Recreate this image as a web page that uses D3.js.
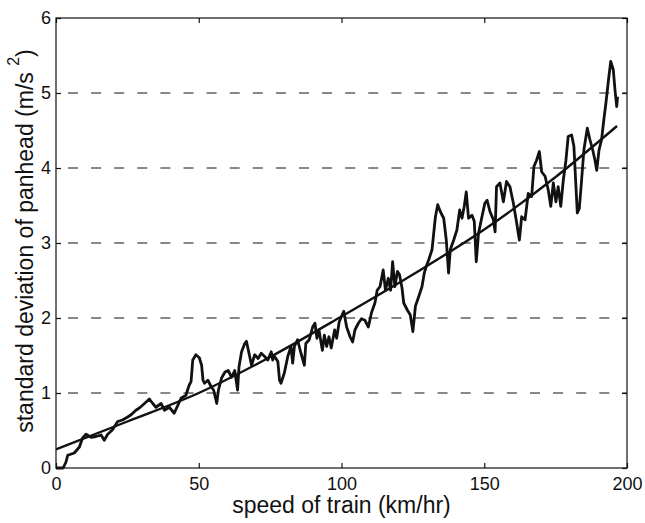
<!DOCTYPE html>
<html>
<head>
<meta charset="utf-8">
<script src="https://cdn.jsdelivr.net/npm/d3@7"></script>
<style>
  body { margin: 0; background: #fff; }
  text { font-family: "Liberation Sans", Arial, Helvetica, sans-serif; fill: #111; }
</style>
</head>
<body>
<div id="svg-container"></div>
<script>
const width = 645;
const height = 523;
const margin = { top: 18, right: 18, bottom: 55, left: 56 };

// measured speed (km/hr)
const speed = [
  0, 2.5, 3.5, 4.1, 6.4, 8.2, 9.3, 10.5, 12.3, 14,
  15.8, 16.9, 18.1, 19.8, 21.6, 23.3, 25.1, 26.3, 28, 29.2,
  31, 32.7, 33.9, 35, 36.8, 38, 39.7, 41.4, 42.6, 43.8,
  45.5, 46.7, 47.3, 47.9, 49, 50.2, 51, 51.5, 52, 53.2,
  54.4, 55.2, 56.3, 56.9, 58, 59.2, 60.3, 61.5, 62.6, 63.6,
  64.1, 65, 66.1, 66.7, 67.6, 68.5, 69.6, 70.8, 71.9, 73,
  74.2, 75.4, 75.9, 76.5, 77.7, 78.3, 78.8, 80, 81.2, 82.3,
  82.9, 83.5, 84.6, 85.8, 87, 87.5, 88.7, 89.9, 90.7, 91.4,
  92.1, 93.3, 94, 94.8, 95.6, 96.4, 97.6, 98.3, 99.2, 100.2,
  100.8, 101.8, 103, 103.9, 104.7, 105.9, 107, 108.2, 109.4, 110.5,
  111.7, 112.5, 113.5, 114.6, 115.4, 116.4, 117.2, 117.9, 118.7, 119.6,
  120.3, 121.2, 121.8, 123, 124.1, 125, 125.9, 127, 128.2, 129,
  129.7, 130.5, 131.7, 132.3, 132.9, 133.7, 134.6, 135.8, 136.7, 137.5,
  138.1, 139.3, 140.4, 141.4, 142.2, 143, 143.7, 144.5, 145.7, 146.5,
  147.2, 148, 149.2, 150.2, 151, 152, 153.2, 153.8, 154.3, 155.5,
  156.7, 157.8, 159, 160.2, 161.3, 162.3, 163.1, 164.3, 165.4, 166.6,
  167.4, 168.3, 169.3, 170.1, 171.3, 172.4, 173.3, 174.2, 175.1, 175.9,
  176.8, 177.7, 178.6, 179.4, 180.6, 181.4, 182, 182.6, 183.3, 184.1,
  184.9, 186.1, 187, 188, 188.8, 189.4, 190.2, 191.1, 192, 192.6,
  193.5, 194.3, 195.2, 195.8, 196.4, 196.7
];

// standard deviation of panhead (m/s^2)
const stdDev = [
  0, 0, 0.08, 0.17, 0.2, 0.28, 0.4, 0.45, 0.41, 0.42,
  0.44, 0.37, 0.45, 0.51, 0.62, 0.64, 0.68, 0.71, 0.77, 0.8,
  0.86, 0.92, 0.86, 0.81, 0.86, 0.77, 0.81, 0.73, 0.83, 0.93,
  0.97, 1.11, 1.15, 1.44, 1.51, 1.47, 1.37, 1.17, 1.13, 1.17,
  1.08, 1.04, 0.86, 1.04, 1.2, 1.28, 1.3, 1.21, 1.3, 1.04,
  1.35, 1.55, 1.66, 1.69, 1.53, 1.37, 1.51, 1.46, 1.53, 1.49,
  1.44, 1.55, 1.44, 1.49, 1.42, 1.17, 1.13, 1.27, 1.49, 1.62,
  1.4, 1.62, 1.71, 1.53, 1.37, 1.66, 1.71, 1.88, 1.93, 1.73,
  1.84, 1.57, 1.77, 1.62, 1.75, 1.6, 1.84, 1.73, 1.95, 2.04,
  2.09, 1.88, 1.75, 1.68, 1.84, 1.93, 1.99, 1.97, 1.88, 2.07,
  2.2, 2.37, 2.42, 2.64, 2.37, 2.53, 2.37, 2.75, 2.42, 2.62,
  2.58, 2.4, 2.2, 2.11, 2.04, 1.82, 2.16, 2.28, 2.42, 2.6,
  2.69, 2.77, 2.91, 3.13, 3.35, 3.51, 3.42, 3.33, 3.04, 2.6,
  2.91, 3.04, 3.17, 3.44, 3.33, 3.49, 3.68, 3.33, 3.37, 3.29,
  2.75, 3.13, 3.35, 3.53, 3.57, 3.42, 3.31, 3.15, 3.75, 3.8,
  3.55, 3.82, 3.75, 3.53, 3.28, 3.04, 3.35, 3.31, 3.66, 3.62,
  4.02, 4.1, 4.22, 3.95, 3.89, 3.71, 3.49, 3.8, 3.55, 3.75,
  3.49, 3.84, 4.1, 4.42, 4.44, 4.29, 3.84, 3.4, 3.46, 3.84,
  4.24, 4.53, 4.38, 4.24, 4.1, 3.97, 4.24, 4.38, 4.68, 4.86,
  5.17, 5.42, 5.31, 5.04, 4.82, 4.95
];

// fitted trend
const fitSpeed = [0, 25, 50, 75, 100, 125, 150, 175, 196.5];
const fitStdDev = [0.25, 0.62, 1.0, 1.48, 2.02, 2.58, 3.18, 3.88, 4.56];

const xTicks = [0, 50, 100, 150, 200];
const yTicks = [0, 1, 2, 3, 4, 5, 6];
const gridLevels = [1, 2, 3, 4, 5];

const svg = d3
  .select("#svg-container")
  .append("svg")
  .attr("width", width)
  .attr("height", height);

svg.append("rect").attr("width", width).attr("height", height).attr("fill", "#fff");

const xScale = d3
  .scaleLinear()
  .domain([0, 200])
  .range([margin.left, width - margin.right]);

const yScale = d3
  .scaleLinear()
  .domain([0, 6])
  .range([height - margin.bottom, margin.top]);

// dashed grid lines
svg
  .append("g")
  .selectAll("line")
  .data(gridLevels)
  .enter()
  .append("line")
  .attr("x1", xScale(0))
  .attr("x2", xScale(200))
  .attr("y1", (d) => yScale(d))
  .attr("y2", (d) => yScale(d))
  .attr("stroke", "#111")
  .attr("stroke-width", 1)
  .attr("stroke-dasharray", "10,13.1")
  .attr("stroke-dashoffset", 11.1);

// inward ticks on all four sides
const fmt = d3.format("d");
const xAxis = d3.axisBottom(xScale).tickValues(xTicks).tickFormat(fmt).tickSizeInner(-5).tickSizeOuter(0).tickPadding(9);
const yAxis = d3.axisLeft(yScale).tickValues(yTicks).tickFormat(fmt).tickSizeInner(-5).tickSizeOuter(0).tickPadding(5);

svg
  .append("g")
  .attr("id", "x-axis")
  .attr("transform", `translate(0, ${yScale(0)})`)
  .call(xAxis);

svg
  .append("g")
  .attr("id", "y-axis")
  .attr("transform", `translate(${xScale(0)}, 0)`)
  .call(yAxis);

svg
  .append("g")
  .attr("transform", `translate(0, ${yScale(6)})`)
  .call(d3.axisTop(xScale).tickValues(xTicks).tickSizeInner(-5).tickSizeOuter(0).tickFormat(""));

svg
  .append("g")
  .attr("transform", `translate(${xScale(200)}, 0)`)
  .call(d3.axisRight(yScale).tickValues(yTicks).tickSizeInner(-5).tickSizeOuter(0).tickFormat(""));

svg.selectAll(".domain").remove();
svg.selectAll(".tick line").attr("stroke", "#111").attr("stroke-width", 1.2);
svg
  .selectAll(".tick text")
  .style("font-family", '"Liberation Sans", Arial, sans-serif')
  .style("font-size", "18px")
  .attr("fill", "#111");

// plot box
svg
  .append("rect")
  .attr("x", xScale(0))
  .attr("y", yScale(6))
  .attr("width", xScale(200) - xScale(0))
  .attr("height", yScale(0) - yScale(6))
  .attr("fill", "none")
  .attr("stroke", "#111")
  .attr("stroke-width", 1.2);

// measured curve
const measured = speed.map((s, i) => [s, stdDev[i]]);
const line = d3
  .line()
  .x((d) => xScale(d[0]))
  .y((d) => yScale(d[1]));

svg
  .append("path")
  .datum(measured)
  .attr("d", line)
  .attr("fill", "none")
  .attr("stroke", "#111")
  .attr("stroke-width", 2.8)
  .attr("stroke-linejoin", "round");

// fitted trend
const fit = fitSpeed.map((s, i) => [s, fitStdDev[i]]);
svg
  .append("path")
  .datum(fit)
  .attr("d", line.curve(d3.curveMonotoneX))
  .attr("fill", "none")
  .attr("stroke", "#111")
  .attr("stroke-width", 2.4);

// x axis label
svg
  .append("text")
  .attr("x", (xScale(0) + xScale(200)) / 2)
  .attr("y", 513)
  .style("text-anchor", "middle")
  .style("font-size", "23px")
  .text("speed of train (km/hr)");

// y axis label
const yLabel = svg
  .append("text")
  .attr("transform", `translate(33, ${(yScale(0) + yScale(6)) / 2 - 2}) rotate(-90)`)
  .style("text-anchor", "middle")
  .style("font-size", "23px");

yLabel.append("tspan").text("standard deviation of panhead (m/s ");
yLabel.append("tspan").attr("dy", -14).style("font-size", "16px").text("2");
yLabel.append("tspan").attr("dy", 14).text(")");
</script>
</body>
</html>
